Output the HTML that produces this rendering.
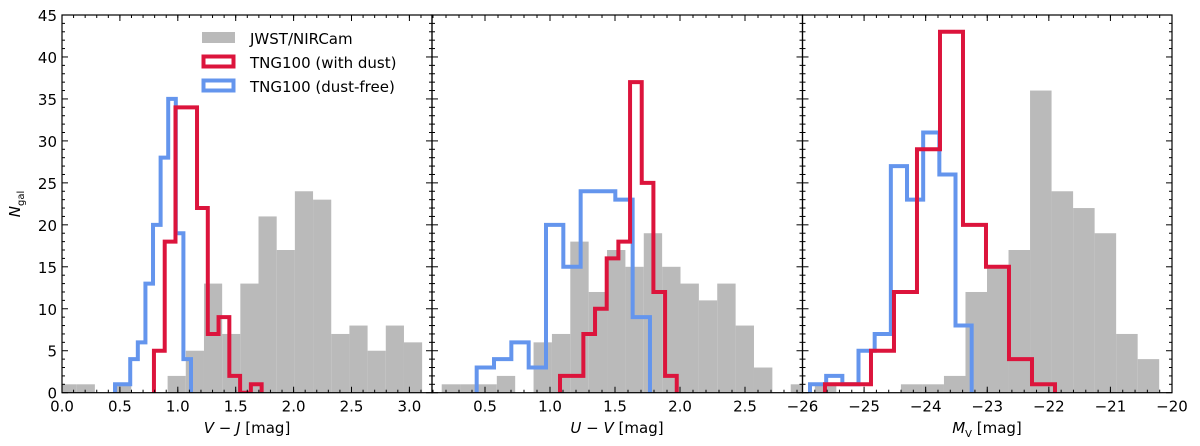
<!DOCTYPE html>
<html><head><meta charset="utf-8"><style>
html,body{margin:0;padding:0;background:#fff;}
svg{display:block;font-family:"DejaVu Sans","Liberation Sans",sans-serif;}
</style></head><body>
<svg id="fig" width="1200" height="446" viewBox="0 0 1200 446" xmlns="http://www.w3.org/2000/svg">
<text transform="translate(20,204) rotate(-90)" text-anchor="middle" font-size="15"><tspan font-style="italic">N</tspan><tspan font-size="10" dy="4">gal</tspan></text>
<text x="247" y="433" text-anchor="middle" font-size="15"><tspan font-style="italic">V</tspan> − <tspan font-style="italic">J</tspan> [mag]</text>
<text x="617" y="433" text-anchor="middle" font-size="15"><tspan font-style="italic">U</tspan> − <tspan font-style="italic">V</tspan> [mag]</text>
<text x="987" y="433" text-anchor="middle" font-size="15"><tspan font-style="italic">M</tspan><tspan font-size="10" dy="4">V</tspan><tspan dy="-4"> [mag]</tspan></text>
<g>
<rect x="202" y="32" width="33" height="11" fill="#bababa"/>
<text x="250" y="44" font-size="15">JWST/NIRCam</text>
<rect x="203.5" y="56.5" width="30" height="10" fill="none" stroke="#dc143c" stroke-width="4"/>
<text x="250" y="68" font-size="15">TNG100 (with dust)</text>
<rect x="203.5" y="80.5" width="30" height="10" fill="none" stroke="#6495ed" stroke-width="4"/>
<text x="250" y="92" font-size="15">TNG100 (dust-free)</text>
</g>
</svg>
<script>
// Panel 1: V-J
const vjGrayStart = -0.03, vjGrayStep = 0.157;
const vjGrayCounts = [1,1,0,1,0,0,2,5,13,7,13,21,17,24,23,7,8,5,8,6];
const vjBlueStart = 0.458, vjBlueStep = 0.0656;
const vjBlueCounts = [1,1,4,6,13,20,28,35,19,4];
const vjRedStart = 0.794, vjRedStep = 0.093;
const vjRedCounts = [5,18,34,34,22,7,9,2,0,1];
// Panel 2: U-V
const uvGrayStart = 0.167, uvGrayStep = 0.1413;
const uvGrayCounts = [1,1,1,2,0,6,7,18,12,17,15,19,15,13,11,13,8,3,0,1];
const uvBlueStart = 0.436, uvBlueStep = 0.1333;
const uvBlueCounts = [3,4,6,3,20,15,24,24,23,9];
const uvRedStart = 1.077, uvRedStep = 0.0898;
const uvRedCounts = [2,2,7,10,16,18,37,25,12,2];
// Panel 3: M_V
const mvGrayStart = -25.80, mvGrayStep = 0.3495;
const mvGrayCounts = [1,0,0,0,1,1,2,12,15,17,36,24,22,19,7,4];
const mvBlueStart = -25.878, mvBlueStep = 0.2625;
const mvBlueCounts = [1,2,1,5,7,27,23,31,26,8];
const mvRedStart = -25.635, mvRedStep = 0.3735;
const mvRedCounts = [1,1,5,12,29,43,20,15,4,1];
// Axis ticks
const yTicks = [0,5,10,15,20,25,30,35,40,45];
const vjTicks = [0.0,0.5,1.0,1.5,2.0,2.5,3.0];
const vjTickLabels = ["0.0","0.5","1.0","1.5","2.0","2.5","3.0"];
const uvTicks = [0.5,1.0,1.5,2.0,2.5];
const uvTickLabels = ["0.5","1.0","1.5","2.0","2.5"];
const mvTicks = [-26,-25,-24,-23,-22,-21,-20];
const mvTickLabels = ["−26","−25","−24","−23","−22","−21","−20"];

const NS = "http://www.w3.org/2000/svg";
const svg = document.getElementById('fig');
const Y0 = 392.7, YT = 15, YMAX = 45;
function yS(v){ return Y0 - (v / YMAX) * (Y0 - YT); }
function mk(tag, attrs, parent){ const e = document.createElementNS(NS, tag); for (const k in attrs) e.setAttribute(k, attrs[k]); (parent||svg).appendChild(e); return e; }

const panels = [
 {id:'vj', L:62, R:432, x0:0, x1:(432-62)/115.8, ticks:vjTicks, labels:vjTickLabels, minor:0.1, showY:true,
  gray:[vjGrayStart,vjGrayStep,vjGrayCounts], blue:[vjBlueStart,vjBlueStep,vjBlueCounts], red:[vjRedStart,vjRedStep,vjRedCounts]},
 {id:'uv', L:432, R:802.5, x0:(432-420)/130, x1:(802.5-420)/130, ticks:uvTicks, labels:uvTickLabels, minor:0.1, showY:false,
  gray:[uvGrayStart,uvGrayStep,uvGrayCounts], blue:[uvBlueStart,uvBlueStep,uvBlueCounts], red:[uvRedStart,uvRedStep,uvRedCounts]},
 {id:'mv', L:802.5, R:1172, x0:-26, x1:-20, ticks:mvTicks, labels:mvTickLabels, minor:0.2, showY:false,
  gray:[mvGrayStart,mvGrayStep,mvGrayCounts], blue:[mvBlueStart,mvBlueStep,mvBlueCounts], red:[mvRedStart,mvRedStep,mvRedCounts]}
];

const defs = mk('defs', {});
panels.forEach(p => {
  const xS = v => p.L + (v - p.x0) / (p.x1 - p.x0) * (p.R - p.L);
  const cp = mk('clipPath', {id:'clip-'+p.id}, defs);
  mk('rect', {x:p.L, y:YT, width:p.R-p.L, height:Y0-YT}, cp);
  const g = mk('g', {'clip-path':'url(#clip-'+p.id+')'});
  
  
  const [gs, gst, gc] = p.gray;
  gc.forEach((c, i) => {
    if (c <= 0) return;
    const xa = xS(gs + i*gst), xb = xS(gs + (i+1)*gst);
    const r = mk('rect', {x:xa, y:yS(c), width:xb-xa, height:Y0-yS(c), fill:'#bababa'}, g);
    
    
  });
  [['blue','#6495ed','tng-dustfree'],['red','#dc143c','tng-dust']].forEach(([k,col,nm]) => {
    const [s, st, cs] = p[k];
    let d = 'M' + xS(s) + ',' + Y0;
    cs.forEach((c, i) => {
      d += ' L' + xS(s + i*st) + ',' + yS(c) + ' L' + xS(s + (i+1)*st) + ',' + yS(c);
    });
    d += ' L' + xS(s + cs.length*st) + ',' + Y0;
    const path = mk('path', {d:d, fill:'none', stroke:col, 'stroke-width':4, 'stroke-linejoin':'miter'}, g);
    
    
  });
  const fr = mk('rect', {x:p.L, y:YT, width:p.R-p.L, height:Y0-YT, fill:'none', stroke:'#000', 'stroke-width':1.2});
  
  
  const tg = mk('g', {stroke:'#000', 'stroke-width':1});
  
  
  const mStart = Math.ceil(p.x0 / p.minor - 1e-6);
  for (let k = mStart; k * p.minor <= p.x1 + 1e-6; k++) {
    const x = xS(k * p.minor);
    mk('line', {x1:x, y1:Y0, x2:x, y2:Y0-3}, tg);
    mk('line', {x1:x, y1:YT, x2:x, y2:YT+3}, tg);
  }
  p.ticks.forEach((t, i) => {
    const x = xS(t);
    mk('line', {x1:x, y1:Y0, x2:x, y2:Y0-6}, tg);
    mk('line', {x1:x, y1:YT, x2:x, y2:YT+6}, tg);
    const tx = mk('text', {x:x, y:Y0+19, 'text-anchor':'middle', 'font-size':15});
    tx.textContent = p.labels[i];
    
    
  });
  for (let v = 0; v <= YMAX; v++) {
    const y = yS(v), len = (v % 5 === 0) ? 6 : 3;
    mk('line', {x1:p.L, y1:y, x2:p.L+len, y2:y}, tg);
    mk('line', {x1:p.R, y1:y, x2:p.R-len, y2:y}, tg);
  }
  if (p.showY) {
    yTicks.forEach((v, i) => {
      const tx = mk('text', {x:p.L-5, y:yS(v)+6, 'text-anchor':'end', 'font-size':15});
      tx.textContent = String(v);
      
      
    });
  }
});
</script>
</body></html>
